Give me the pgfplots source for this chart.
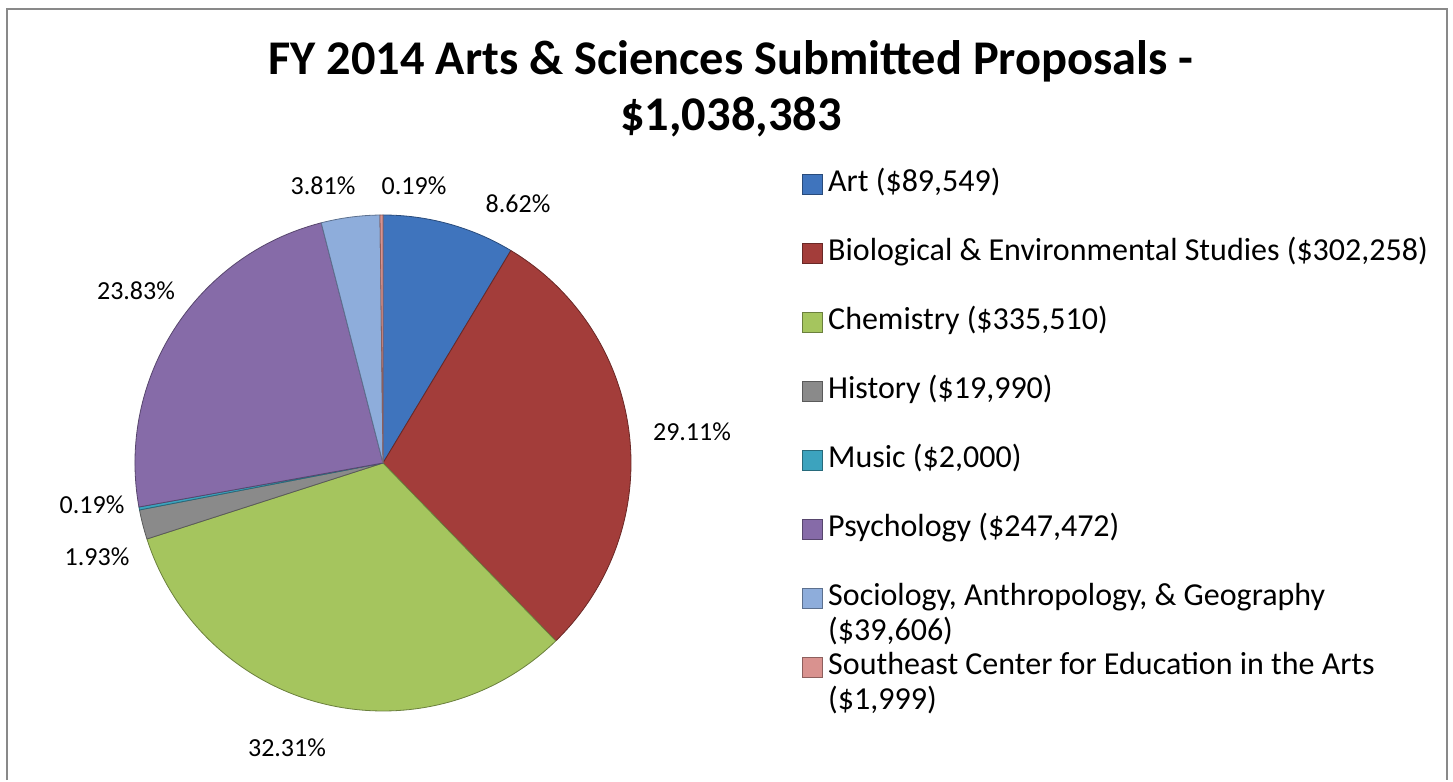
\documentclass[border=0pt]{standalone}
\usepackage{pgfplots}
\pgfplotsset{compat=1.18}
\usepackage{pgfplotstable}
\usepackage{fontspec}
\setmainfont{Carlito}

\definecolor{slice0}{HTML}{3F74BD}
\definecolor{slice1}{HTML}{A33D3A}
\definecolor{slice2}{HTML}{A5C55E}
\definecolor{slice3}{HTML}{8A8A8A}
\definecolor{slice4}{HTML}{3CA3BE}
\definecolor{slice5}{HTML}{866BA8}
\definecolor{slice6}{HTML}{8EADDB}
\definecolor{slice7}{HTML}{D9928F}
\definecolor{framegray}{HTML}{898989}

% submitted amounts ($), and where each percentage label sits (px, origin bottom left)
\pgfplotstableread{
value  lx  ly
89549  518 576
302258 692 348
335510 287 32
19990  97  223
2000   92  275
247472 136 489
39606  323 594
1999   414 594
}\pietable

% total of all slices
\def\pietotal{0}
\pgfplotsforeachungrouped \i in {0,...,7}{%
  \pgfplotstablegetelem{\i}{value}\of\pietable
  \begingroup
  \pgfkeys{/pgf/fpu=true,/pgf/fpu/output format=fixed}%
  \pgfmathparse{\pietotal+\pgfplotsretval}%
  \xdef\pietotal{\pgfmathresult}%
  \endgroup
}

% start/end angles (clockwise from 12 o'clock), share and label spot per slice
\def\piecum{0}
\pgfplotsforeachungrouped \i in {0,...,7}{%
  \pgfplotstablegetelem{\i}{value}\of\pietable
  \let\pieval\pgfplotsretval
  \begingroup
  \pgfkeys{/pgf/fpu=true,/pgf/fpu/output format=fixed}%
  \pgfmathparse{90-360*\piecum/\pietotal}\xdef\tmpa{\pgfmathresult}%
  \pgfmathparse{\piecum+\pieval}\xdef\piecum{\pgfmathresult}%
  \pgfmathparse{90-360*\piecum/\pietotal}\xdef\tmpb{\pgfmathresult}%
  \pgfmathparse{100*\pieval/\pietotal}\xdef\tmpp{\pgfmathresult}%
  \endgroup
  \expandafter\xdef\csname pieA\i\endcsname{\tmpa}%
  \expandafter\xdef\csname pieB\i\endcsname{\tmpb}%
  \expandafter\xdef\csname pieP\i\endcsname{\tmpp}%
  \pgfplotstablegetelem{\i}{lx}\of\pietable
  \expandafter\xdef\csname pieX\i\endcsname{\pgfplotsretval}%
  \pgfplotstablegetelem{\i}{ly}\of\pietable
  \expandafter\xdef\csname pieY\i\endcsname{\pgfplotsretval}%
}

\newcommand{\twoline}[2]{\begin{tabular}[t]{@{}l@{}}#1\\#2\end{tabular}}

\begin{document}
\begin{tikzpicture}
\begin{axis}[
    hide axis,
    scale only axis,
    width=726.5pt, height=390pt,
    xmin=0, xmax=1453, ymin=0, ymax=780,
    clip=false,
    legend cell align=left,
    legend image code/.code={\fill[#1] (0pt,-5pt) rectangle (10pt,5pt);},
    legend style={
        draw=none, fill=none,
        at={(axis cs:796,615)}, anchor=north west,
        font=\fontsize{16}{17.5}\selectfont,
        nodes={inner sep=0pt, text height=11pt, text depth=4pt},
        row sep=19.5pt,
        /tikz/every odd column/.append style={column sep=2.5pt},
    },
]
\path (axis cs:0,0) rectangle (axis cs:1453,780);

% chart frame (runs off the bottom of the picture)
\draw[framegray, line width=1.25pt] (axis cs:7,0) -- (axis cs:7,771) -- (axis cs:1447,771) -- (axis cs:1447,0);

% title
\node[font=\fontsize{24.2}{28}\selectfont\bfseries, anchor=base] at (axis cs:731,705)
    {FY 2014 Arts \& Sciences Submitted Proposals -};
\node[font=\fontsize{24.2}{28}\selectfont\bfseries, anchor=base] at (axis cs:731,649)
    {\$1,038,383};

% slices and percentage labels
\pgfplotsinvokeforeach{0,...,7}{%
  \fill[slice#1, draw=slice#1!65!black, line width=0.4pt, line join=round]
    (axis cs:383,317) -- ++(\csname pieA#1\endcsname:124pt)
    arc[start angle=\csname pieA#1\endcsname, end angle=\csname pieB#1\endcsname, radius=124pt]
    -- cycle;
  \node[font=\fontsize{13}{15}\selectfont] at (axis cs:\csname pieX#1\endcsname,\csname pieY#1\endcsname)
    {\pgfmathprintnumber[fixed,fixed zerofill,precision=2,assume math mode=true]{\csname pieP#1\endcsname}\%};
}

\addlegendimage{fill=slice0, draw=slice0!65!black}
\addlegendentry{Art (\$89,549)}
\addlegendimage{fill=slice1, draw=slice1!65!black}
\addlegendentry{Biological \& Environmental Studies (\$302,258)}
\addlegendimage{fill=slice2, draw=slice2!65!black}
\addlegendentry{Chemistry (\$335,510)}
\addlegendimage{fill=slice3, draw=slice3!65!black}
\addlegendentry{History (\$19,990)}
\addlegendimage{fill=slice4, draw=slice4!65!black}
\addlegendentry{Music (\$2,000)}
\addlegendimage{fill=slice5, draw=slice5!65!black}
\addlegendentry{Psychology (\$247,472)}
\addlegendimage{fill=slice6, draw=slice6!65!black}
\addlegendentry{\twoline{Sociology, Anthropology, \& Geography}{(\$39,606)}}
\addlegendimage{fill=slice7, draw=slice7!65!black}
\addlegendentry{\twoline{Southeast Center for Education in the Arts}{(\$1,999)}}
\end{axis}
\end{tikzpicture}
\end{document}
